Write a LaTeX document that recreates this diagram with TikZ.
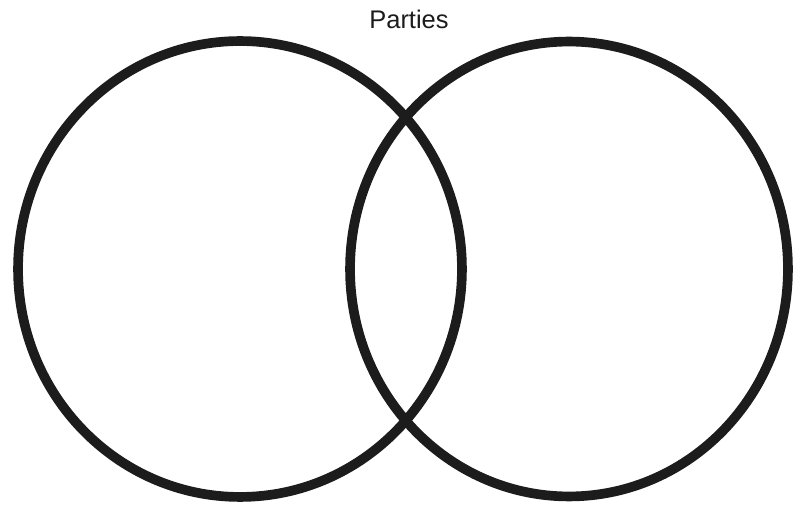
\documentclass[tikz,border=0pt]{standalone}
\usepackage{fontspec}
\setsansfont{Liberation Sans}
\usepackage{tikz}
\usetikzlibrary{shapes.geometric}
\definecolor{inkblack}{RGB}{28,28,28}

\begin{document}
\begin{tikzpicture}[x=0.02cm,y=-0.02cm,
  setring/.style={ellipse,draw=inkblack,line width=5.5pt,inner sep=0pt},
  title/.style={font=\sffamily\fontsize{14.5}{16}\selectfont,text=inkblack}
]
\useasboundingbox (0,0) rectangle (795,506);
\node[setring,minimum width=8.88cm,minimum height=9.12cm] (left) at (240,269) {};
\node[setring,minimum width=8.76cm,minimum height=9.1cm] (right) at (569,269) {};
\node[title] (parties) at (409,19) {Parties};
\end{tikzpicture}
\end{document}
